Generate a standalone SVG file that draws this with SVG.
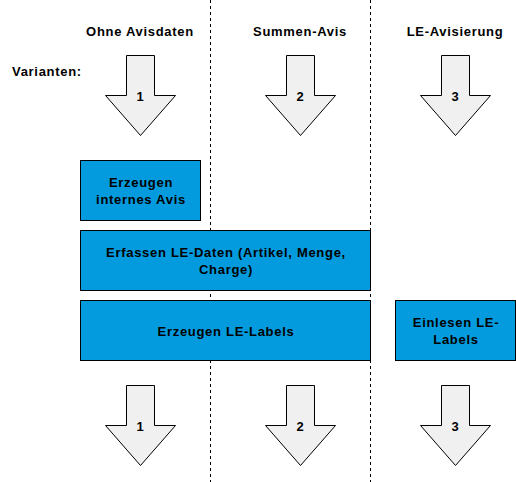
<svg xmlns="http://www.w3.org/2000/svg" width="516" height="482" viewBox="0 0 516 482">
<style>
.t{font-family:"Liberation Sans",Arial,Helvetica,sans-serif;font-weight:bold;font-size:13px;letter-spacing:0.7px;fill:#000;text-anchor:middle}
.l{text-anchor:start}
.box{fill:#039BDD;stroke:#000;stroke-width:1}
.arr{fill:#F0F0F0;stroke:#000;stroke-width:1}
.sep{stroke:#000;stroke-width:1;stroke-dasharray:3 3;fill:none}
</style>
<defs>
<path id="down" class="arr" d="M-14,0 H14 V40 H35 L0,80 L-35,40 H-14 Z"/>
</defs>
<g id="separators">
<line class="sep" x1="210.5" y1="0" x2="210.5" y2="482"/>
<line class="sep" x1="370.5" y1="0" x2="370.5" y2="482"/>
</g>
<g id="headers">
<text class="t" x="140" y="36">Ohne Avisdaten</text>
<text class="t" x="300" y="36">Summen-Avis</text>
<text class="t" x="455" y="36">LE-Avisierung</text>
<text class="t l" x="12" y="76">Varianten:</text>
</g>
<g id="arrow-top-1"><use href="#down" x="140.5" y="55.5"/><text class="t" x="140.5" y="101">1</text></g>
<g id="arrow-top-2"><use href="#down" x="300.5" y="55.5"/><text class="t" x="300.5" y="101">2</text></g>
<g id="arrow-top-3"><use href="#down" x="455.5" y="55.5"/><text class="t" x="455.5" y="101">3</text></g>
<g id="box-internes-avis">
<rect class="box" x="80.5" y="160.5" width="120" height="60"/>
<text class="t" x="141" y="187">Erzeugen</text>
<text class="t" x="141" y="204">internes Avis</text>
</g>
<g id="box-erfassen">
<rect class="box" x="80.5" y="230.5" width="290" height="60"/>
<text class="t" x="226" y="257">Erfassen LE-Daten (Artikel, Menge,</text>
<text class="t" x="226" y="274">Charge)</text>
</g>
<g id="box-erzeugen-labels">
<rect class="box" x="80.5" y="300.5" width="290" height="60"/>
<text class="t" x="226" y="335.5">Erzeugen LE-Labels</text>
</g>
<g id="box-einlesen-labels">
<rect class="box" x="395.5" y="300.5" width="120" height="60"/>
<text class="t" x="456" y="327">Einlesen LE-</text>
<text class="t" x="456" y="344">Labels</text>
</g>
<g id="arrow-bottom-1"><use href="#down" x="140.5" y="385.5"/><text class="t" x="140.5" y="431">1</text></g>
<g id="arrow-bottom-2"><use href="#down" x="300.5" y="385.5"/><text class="t" x="300.5" y="431">2</text></g>
<g id="arrow-bottom-3"><use href="#down" x="455.5" y="385.5"/><text class="t" x="455.5" y="431">3</text></g>
</svg>
